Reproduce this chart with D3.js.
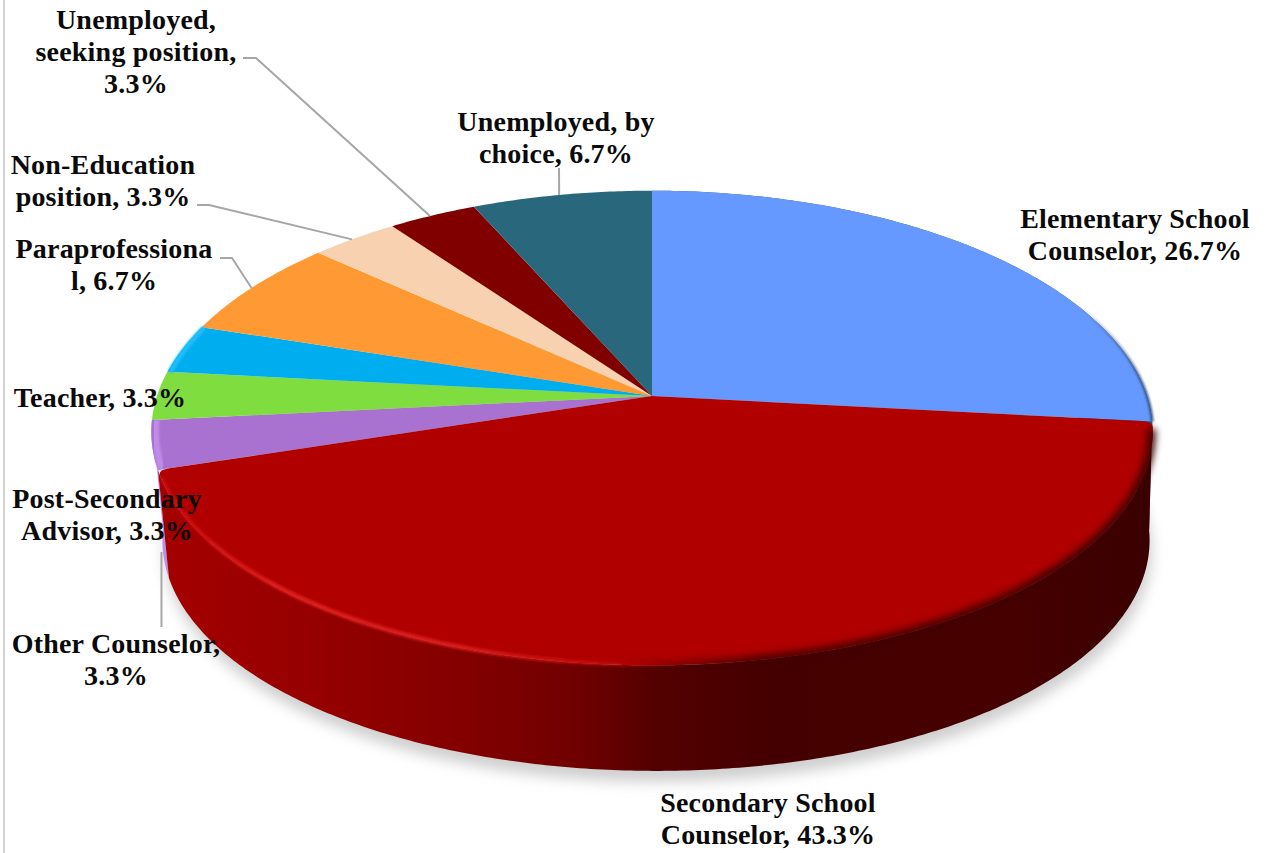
<!DOCTYPE html>
<html>
<head>
<meta charset="utf-8">
<script src="https://cdn.jsdelivr.net/npm/d3@7"></script>
<style>
  html, body { margin: 0; padding: 0; background: #fff; overflow: hidden; }
  text { font-family: "Liberation Serif", serif; font-weight: 700; font-size: 28px; letter-spacing: 0.2px; fill: #0a0a0a; }
</style>
</head>
<body>
<div id="chart"></div>
<script>
// Chart data
const categories = ['Elementary School Counselor', 'Secondary School Counselor', 'Other Counselor',
  'Post-Secondary Advisor', 'Teacher', 'Paraprofessional', 'Non-Education position',
  'Unemployed, seeking position', 'Unemployed, by choice'];
const shares = [26.7, 43.3, 3.3, 3.3, 3.3, 6.7, 3.3, 3.3, 6.7];
const labelLines = [
  ['Elementary School', 'Counselor, 26.7%'],
  ['Secondary School', 'Counselor, 43.3%'],
  ['Other Counselor,', '3.3%'],
  ['Post-Secondary', 'Advisor, 3.3%'],
  ['Teacher, 3.3%'],
  ['Paraprofessiona', 'l, 6.7%'],
  ['Non-Education', 'position, 3.3%'],
  ['Unemployed,', 'seeking position,', '3.3%'],
  ['Unemployed, by', 'choice, 6.7%']
];

const topColours = ['#6699ff', '#b00000', '#aa72d0', '#80dd40', '#00aeef', '#ff9933', '#f8d2b0', '#800000', '#29687c'];
const sideColours = ['#34507f', 'url(#sideFill)', '#bf8ce8'];

// Where the label blocks sit: centre x, first baseline
const labelPos = [[1135, 228], [768, 812], [116, 653], [107, 508], [100, 407], [114, 258], [103, 174], [136, 29], [556, 131]];
const lineHeight = 32;
// Leader lines: start point and elbow, the end comes from the slice itself (null = none)
const leaders = [null, null, null, null, null,
  [[220, 258], [232, 258]],
  [[197, 205], [209, 205]],
  [[243, 58], [256, 58]],
  [[559, 168], [559, 168]]];

const width = 1267, height = 853;

// Perspective view of the two pie discs
const topDisc = { cx: 652, y0: 396, a: 495, b: 233 };
const bottomDisc = { cx: 656, y0: 505, a: 488, b: 230 };
const perspX = 0.15, perspY = 0.135;

function project(disc, angle, r = 1) {
  const u = r * Math.sin(angle), v = r * Math.cos(angle);
  return [disc.cx + disc.a * u / (1 + perspX * v), disc.y0 - disc.b * v / (1 + perspY * v)];
}

function arcPoints(disc, a0, a1, r = 1) {
  const n = Math.max(2, Math.ceil(Math.abs(a1 - a0) / 0.01));
  return d3.range(n + 1).map(i => project(disc, a0 + (a1 - a0) * i / n, r));
}

const line = d3.line();
const slices = d3.pie().sort(null)(shares);

const svg = d3.select('#chart').append('svg')
  .attr('width', width)
  .attr('height', height);

svg.append('rect').attr('x', 3).attr('y', 0).attr('width', 2).attr('height', height).attr('fill', '#d2d2d2');

// Filters and gradients
const defs = svg.append('defs');
[['blur8', 7], ['blur4', 3.5], ['blur2', 1.8], ['blur1', 1.2]].forEach(([id, dev]) => {
  defs.append('filter').attr('id', id)
    .attr('x', '-10%').attr('y', '-10%').attr('width', '120%').attr('height', '120%')
    .append('feGaussianBlur').attr('stdDeviation', dev);
});

function addGradient(id, x1, x2, stops) {
  const g = defs.append('linearGradient').attr('id', id)
    .attr('gradientUnits', 'userSpaceOnUse')
    .attr('x1', x1).attr('x2', x2).attr('y1', 0).attr('y2', 0);
  stops.forEach(([o, c, a]) => g.append('stop')
    .attr('offset', o).attr('stop-color', c).attr('stop-opacity', a === undefined ? 1 : a));
}
addGradient('sideFill', 160, 1150, [
  [0, '#a40000'], [0.15, '#960000'], [0.3, '#840000'], [0.42, '#700000'],
  [0.5, '#540000'], [0.62, '#440000'], [0.85, '#470000'], [1, '#3a0000']
]);
addGradient('rimLight', 160, 1150, [
  [0, '#c80808', 0.9], [0.12, '#e62222', 1], [0.3, '#e02020', 1], [0.44, '#c81010', 0.8], [0.53, '#b00000', 0]
]);
addGradient('rimDark', 160, 1150, [
  [0.46, '#420000', 0], [0.6, '#420000', 0.95], [1, '#3a0000', 1]
]);
addGradient('blueRim', 1080, 1152, [[0, '#2c4a7a', 0], [1, '#2c4a7a', 0.9]]);

// Soft shadow under the pie
svg.append('path')
  .attr('d', line(arcPoints(bottomDisc, 0, 2 * Math.PI)) + 'Z')
  .attr('transform', 'translate(2,11)')
  .attr('fill', '#cfcfcf')
  .attr('filter', 'url(#blur8)');

// Pie sides: only the blue, purple and red ones ever show
const sideOrder = [2, 0, 1];
svg.append('g').selectAll('path')
  .data(sideOrder)
  .join('path')
  .attr('d', i => line(arcPoints(topDisc, slices[i].startAngle, slices[i].endAngle)
    .concat(arcPoints(bottomDisc, slices[i].endAngle, slices[i].startAngle))) + 'Z')
  .attr('fill', i => sideColours[i]);

// Top faces, secondary slice last because of its rounded corners
function slicePath(d, i) {
  const p = d3.path();
  const c = project(topDisc, 0, 0);
  if (i !== 1) {
    p.moveTo(...c);
    arcPoints(topDisc, d.startAngle, d.endAngle).forEach(q => p.lineTo(...q));
    p.closePath();
    return p.toString();
  }
  const da = 0.022;
  p.moveTo(...c);
  p.lineTo(...project(topDisc, d.startAngle, 0.978));
  p.quadraticCurveTo(...project(topDisc, d.startAngle), ...project(topDisc, d.startAngle + da));
  arcPoints(topDisc, d.startAngle + da, d.endAngle - da).forEach(q => p.lineTo(...q));
  p.quadraticCurveTo(...project(topDisc, d.endAngle), ...project(topDisc, d.endAngle, 0.978));
  p.closePath();
  return p.toString();
}

const drawOrder = [0, 2, 3, 4, 5, 6, 7, 8];

svg.append('g').selectAll('path')
  .data(drawOrder)
  .join('path')
  .attr('d', i => slicePath(slices[i], i))
  .attr('fill', i => topColours[i]);

// Bevel on the rim of the blue, purple and sky slices
svg.append('path')
  .attr('d', line(arcPoints(topDisc, slices[0].startAngle + 0.5, slices[0].endAngle)))
  .attr('fill', 'none').attr('stroke', 'url(#blueRim)').attr('stroke-width', 3)
  .attr('filter', 'url(#blur1)');
svg.append('path')
  .attr('d', line(arcPoints(topDisc, slices[2].startAngle, slices[2].endAngle, 0.992)))
  .attr('fill', 'none').attr('stroke', '#bf8ce8').attr('stroke-width', 7)
  .attr('filter', 'url(#blur1)');
svg.append('path')
  .attr('d', line(arcPoints(topDisc, slices[4].startAngle, slices[4].endAngle, 0.994)))
  .attr('fill', 'none').attr('stroke', '#22bdf7').attr('stroke-width', 5)
  .attr('filter', 'url(#blur1)');

svg.append('path')
  .attr('d', slicePath(slices[1], 1))
  .attr('fill', topColours[1]);

// Bevel of the front edge: bright on the left, soft and dark on the right
const frontEdge = line(arcPoints(topDisc, slices[1].startAngle + 0.03, slices[1].endAngle - 0.03, 0.998));
svg.append('path')
  .attr('d', frontEdge)
  .attr('fill', 'none').attr('stroke', 'url(#rimDark)').attr('stroke-width', 8)
  .attr('filter', 'url(#blur4)');
svg.append('path')
  .attr('d', frontEdge)
  .attr('fill', 'none').attr('stroke', 'url(#rimLight)').attr('stroke-width', 4)
  .attr('filter', 'url(#blur2)');

// Leader lines
const leaderGroup = svg.append('g')
  .attr('fill', 'none').attr('stroke', '#a6a6a6').attr('stroke-width', 2);

leaders.forEach((pts, i) => {
  if (!pts) return;
  const mid = (slices[i].startAngle + slices[i].endAngle) / 2 - 0.006;
  leaderGroup.append('path').attr('d', line([...pts, project(topDisc, mid)]));
});
// The Other Counselor leader leaves the slice side straight down
const otherX = project(topDisc, slices[2].startAngle)[0] + 3.5;
leaderGroup.append('path').attr('d', line([[otherX, 552], [otherX, 627]]));

// Labels
labelLines.forEach((lines, i) => {
  const t = svg.append('text').attr('text-anchor', 'middle').attr('aria-label', categories[i]);
  lines.forEach((s, k) => {
    t.append('tspan')
      .attr('x', labelPos[i][0])
      .attr('y', labelPos[i][1] + k * lineHeight)
      .text(s);
  });
});
</script>
</body>
</html>
